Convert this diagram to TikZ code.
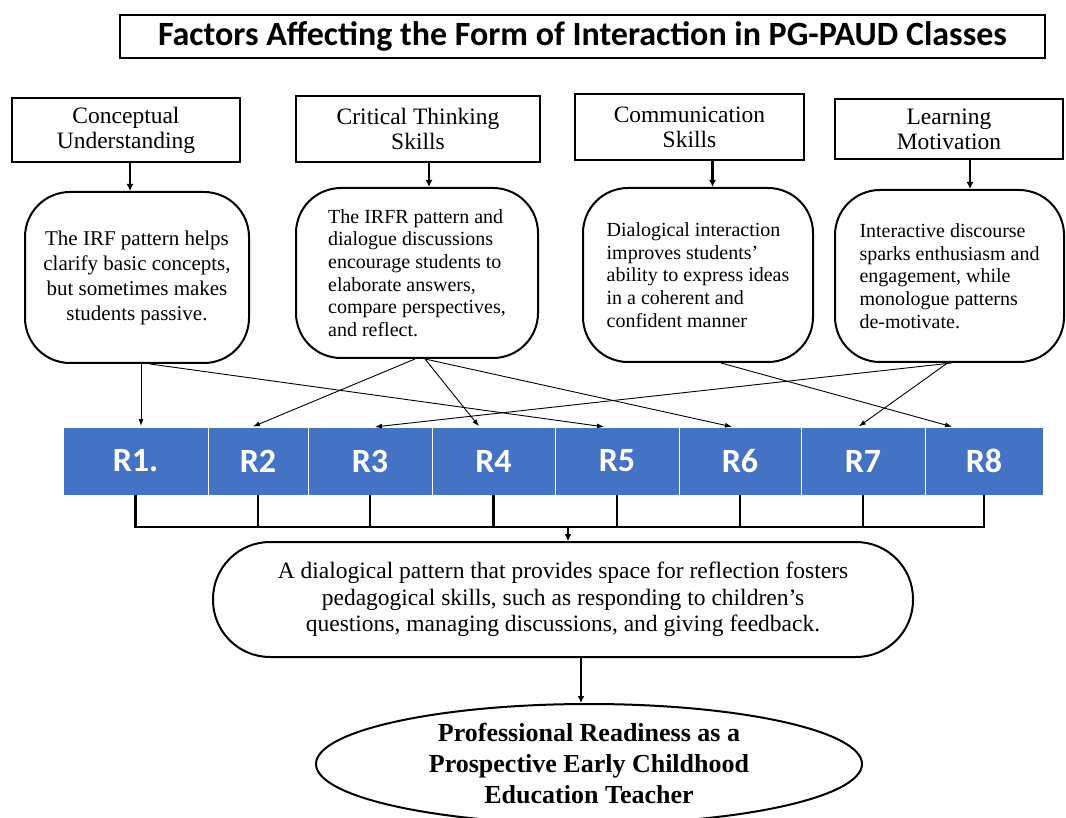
\documentclass[tikz,border=0pt]{standalone}
\usepackage{fontspec}
\setmainfont{Liberation Serif}
\newfontfamily\carlito{Carlito}
\usetikzlibrary{positioning}
\usetikzlibrary{arrows.meta}
\usetikzlibrary{shapes.geometric}
\definecolor{rbar}{RGB}{68,114,196}

\begin{document}
\begin{tikzpicture}[x=1pt,y=-1pt,
		factor/.style = {draw, line width=2.2pt, rectangle, inner sep=0pt, align=center, font=\fontsize{23.5}{25}\selectfont},
		effect/.style = {draw, line width=2pt, rectangle, rounded corners=45pt, inner sep=0pt, align=left, font=\fontsize{20}{22.7}\selectfont},
		cell/.style = {fill=rbar, draw=white, line width=1pt, outer sep=0pt, inner sep=0pt, minimum height=68pt, text=white, font=\carlito\bfseries\fontsize{34}{34}\selectfont},
		link/.style = {line width=0.9pt, shorten >=1pt, -{Latex[length=7pt,width=5pt]}},
		down/.style = {line width=2.2pt, -{Latex[length=7pt,width=7pt]}},
		tie/.style = {line width=2.2pt}]

		\useasboundingbox (0,0) rectangle (1066,818);

		% title
		\node[draw, line width=1.8pt, minimum width=925pt, minimum height=43pt, font=\carlito\bfseries\fontsize{34}{34}\selectfont] at (582.5,36.5) (title)
		{Factors Affecting the Form of Interaction in PG-PAUD Classes};

		% factors
		\node[factor, minimum width=228pt, minimum height=64pt] at (126,130) (h1) {Conceptual\\Understanding};
		\node[factor, minimum width=244pt, minimum height=66pt] at (418,129) (h2) {Critical Thinking\\Skills};
		\node[factor, minimum width=229pt, minimum height=66pt] at (689.5,127) (h3) {Communication\\Skills};
		\node[factor, minimum width=228pt, minimum height=60pt] at (949,129) (h4) {Learning\\Motivation};

		% effects
		\node[effect, align=center, minimum width=224pt, minimum height=171pt, font=\fontsize{21}{25}\selectfont] at (137,277.5) (b1)
		{The IRF pattern helps\\clarify basic concepts,\\but sometimes makes\\students passive.};
		\node[effect, minimum width=242pt, minimum height=170pt] at (417,273) (b2)
		{The IRFR pattern and\\dialogue discussions\\encourage students to\\elaborate answers,\\compare perspectives,\\and reflect.};
		\node[effect, minimum width=230pt, minimum height=174pt] at (698,275) (b3)
		{Dialogical interaction\\improves students'\\ability to express ideas\\in a coherent and\\confident manner};
		\node[effect, minimum width=229pt, minimum height=172pt] at (949.5,276) (b4)
		{Interactive discourse\\sparks enthusiasm and\\engagement, while\\monologue patterns\\de-motivate.};

		\draw[down] ([xshift=4pt]h1.south) -- ([xshift=4pt]h1.south |- b1.north);
		\draw[down] ([xshift=11pt]h2.south) -- ([xshift=11pt]h2.south |- b2.north);
		\draw[down] ([xshift=23pt]h3.south) -- ([xshift=23pt]h3.south |- b3.north);
		\draw[down] ([xshift=21pt]h4.south) -- ([xshift=21pt]h4.south |- b4.north);

		% the R bar
		\node[cell, minimum width=145pt] at (135.5,461) (r1) {R1.};
		\node[cell, minimum width=100pt, right=0pt of r1] (r2) {R2};
		\node[cell, minimum width=124pt, right=0pt of r2] (r3) {R3};
		\node[cell, minimum width=123pt, right=0pt of r3] (r4) {R4};
		\node[cell, minimum width=124pt, right=0pt of r4] (r5) {R5};
		\node[cell, minimum width=122pt, right=0pt of r5] (r6) {R6};
		\node[cell, minimum width=124pt, right=0pt of r6] (r7) {R7};
		\node[cell, minimum width=118pt, right=0pt of r7] (r8) {R8};

		\draw[link] ([xshift=4pt]b1.south) -- ([xshift=4pt]b1.south |- r1.north);
		\draw[link] ([xshift=13pt]b1.south) -- ([xshift=-12pt]r5.north);
		\draw[link] ([xshift=-2pt]b2.south) -- ([xshift=-6pt]r2.north);
		\draw[link] ([xshift=8pt]b2.south) -- ([xshift=-14pt]r4.north);
		\draw[link] ([xshift=8pt]b2.south) -- ([xshift=-7pt]r6.north);
		\draw[link] ([xshift=23pt]b3.south) -- ([xshift=-31pt]r8.north);
		\draw[link] ([xshift=2pt]b4.south) -- ([xshift=4pt]r3.north);
		\draw[link] ([xshift=-2pt]b4.south) -- ([xshift=-5pt]r7.north);

		% bracket under the bar
		\coordinate (join) at (568,527);
		\draw[tie] (r1.south) -- (r1.south |- join);
		\draw[tie] (r2.south) -- (r2.south |- join);
		\draw[tie] (r3.south) -- (r3.south |- join);
		\draw[tie] (r4.south) -- (r4.south |- join);
		\draw[tie] (r5.south) -- (r5.south |- join);
		\draw[tie] (r6.south) -- (r6.south |- join);
		\draw[tie] (r7.south) -- (r7.south |- join);
		\draw[tie] (r8.south) -- (r8.south |- join);
		\draw[tie] ([xshift=-1.1pt]r1.south |- join) -- ([xshift=1.1pt]r8.south |- join);

		% outcome
		\node[draw, line width=2pt, rectangle, rounded corners=57pt, inner sep=0pt, minimum width=700pt, minimum height=115pt, align=center, font=\fontsize{23.5}{26.5}\selectfont] at (563,599.5) (talk)
		{A dialogical pattern that provides space for reflection fosters\\pedagogical skills, such as responding to children's\\questions, managing discussions, and giving feedback.};
		\node[draw, line width=2pt, ellipse, inner sep=0pt, minimum width=546pt, minimum height=120pt, align=center, font=\bfseries\fontsize{26}{31}\selectfont] at (589,764) (goal)
		{Professional Readiness as a\\Prospective Early Childhood\\Education Teacher};

		\draw[down] (join) -- (join |- talk.north);
		\draw[down] ([xshift=18pt]talk.south) -- ([xshift=18pt]talk.south |- goal.north);
	\end{tikzpicture}
\end{document}
